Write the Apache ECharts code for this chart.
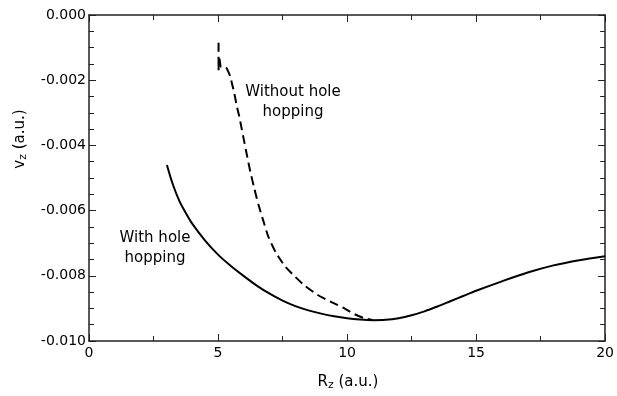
<!DOCTYPE html>
<html>
<head>
<meta charset="utf-8">
<script src="https://cdn.jsdelivr.net/npm/echarts@6/dist/echarts.min.js"></script>
<style>
  html, body { margin: 0; padding: 0; background: #fff; }
  #chart { width: 617px; height: 396px; }
</style>
</head>
<body>
<div id="chart"></div>
<script>
// With hole hopping (solid)
const withX = [3.02, 3.25, 3.5, 3.75, 4.0, 4.5, 5.0, 5.5, 6.0, 6.5, 7.0, 7.5, 8.0, 8.5, 9.0, 9.5,
  10.0, 10.5, 11.0, 11.5, 12.0, 12.5, 13.0, 13.5, 14.0, 14.5, 15.0, 16.0, 17.0, 18.0, 19.0, 20.0];
const withY = [-0.0046, -0.0052, -0.0057, -0.00607, -0.0064, -0.00692, -0.00735, -0.0077,
  -0.00801, -0.0083, -0.00855, -0.00876, -0.00893, -0.00906, -0.00916, -0.00924, -0.0093,
  -0.00934, -0.00936, -0.00935, -0.0093, -0.00921, -0.00909, -0.00894, -0.00878, -0.00862,
  -0.00846, -0.00817, -0.0079, -0.00768, -0.00752, -0.0074];

// Without hole hopping (dashed)
const withoutX = [5.02, 5.02, 5.05, 5.12, 5.3, 5.41, 5.48, 5.54, 5.63, 5.73, 5.82, 5.92, 6.02,
  6.12, 6.25, 6.4, 6.56, 6.75, 6.95, 7.25, 7.59, 7.95, 8.36, 8.85, 9.38, 9.9, 10.3, 10.66, 11.0];
const withoutY = [-0.00085, -0.0017, -0.0013, -0.0016, -0.0016, -0.00176, -0.0019, -0.0021,
  -0.0024, -0.0028, -0.0031, -0.0035, -0.0039, -0.0043, -0.0048, -0.0053, -0.0058, -0.0063,
  -0.0068, -0.0073, -0.0077, -0.0080, -0.0083, -0.00858, -0.0088, -0.0090, -0.00918, -0.0093,
  -0.00936];

const xRange = [0, 20];
const yRange = [-0.010, 0.000];

const zip = (xs, ys) => xs.map((x, i) => [x, ys[i]]);

const chart = echarts.init(document.getElementById("chart"));

const axisLine = { show: true, onZero: false, lineStyle: { color: "#222", width: 1.5 } };
const tickStyle = { color: "#222", width: 1 };
const font = "DejaVu Sans";

const xBase = {
  type: "value",
  min: xRange[0],
  max: xRange[1],
  interval: 5,
  axisLine: axisLine,
  axisTick: { show: true, inside: true, length: 7, lineStyle: tickStyle },
  minorTick: { show: true, splitNumber: 2, length: 5, lineStyle: tickStyle },
  splitLine: { show: false },
};
const yBase = {
  type: "value",
  min: yRange[0],
  max: yRange[1],
  interval: 0.002,
  axisLine: axisLine,
  axisTick: { show: true, inside: true, length: 7, lineStyle: tickStyle },
  minorTick: { show: true, splitNumber: 4, length: 5, lineStyle: tickStyle },
  splitLine: { show: false },
};

const option = {
  animation: false,
  backgroundColor: "#fff",
  grid: { left: 89, right: 7, top: 15, bottom: 55 },
  xAxis: [
    Object.assign({}, xBase, {
      position: "bottom",
      axisLabel: { color: "#000", fontFamily: font, fontSize: 14, margin: 5 },
    }),
    Object.assign({}, xBase, { position: "top", axisLabel: { show: false } }),
  ],
  yAxis: [
    Object.assign({}, yBase, {
      position: "left",
      axisLabel: {
        color: "#000",
        fontFamily: font,
        fontSize: 14,
        margin: 3,
        formatter: (v) => v.toFixed(3),
      },
    }),
    Object.assign({}, yBase, { position: "right", axisLabel: { show: false } }),
  ],
  series: [
    {
      name: "With hole hopping",
      type: "line",
      data: zip(withX, withY),
      showSymbol: false,
      smooth: 0.3,
      lineStyle: { color: "#000", width: 2 },
    },
    {
      name: "Without hole hopping",
      type: "line",
      data: zip(withoutX, withoutY),
      showSymbol: false,
      smooth: 0.2,
      lineStyle: { color: "#000", width: 2, type: [9, 5] },
    },
  ],
  graphic: [
    {
      type: "text",
      x: 293,
      y: 102,
      style: {
        text: "Without hole\nhopping",
        fontFamily: font,
        fontSize: 15,
        lineHeight: 20,
        fill: "#000",
        textAlign: "center",
        textVerticalAlign: "middle",
      },
    },
    {
      type: "text",
      x: 155,
      y: 248,
      style: {
        text: "With hole\nhopping",
        fontFamily: font,
        fontSize: 15,
        lineHeight: 20,
        fill: "#000",
        textAlign: "center",
        textVerticalAlign: "middle",
      },
    },
    {
      type: "text",
      x: 348,
      y: 382,
      style: {
        text: "{m|R}{s|z}{m| (a.u.)}",
        textAlign: "center",
        textVerticalAlign: "middle",
        rich: {
          m: { fontFamily: font, fontSize: 15, fill: "#000", lineHeight: 20 },
          s: { fontFamily: font, fontSize: 11, fill: "#000", lineHeight: 20, padding: [7, 0, 0, 0] },
        },
      },
    },
    {
      type: "text",
      x: 20,
      y: 139,
      rotation: Math.PI / 2,
      style: {
        text: "{m|v}{s|z}{m| (a.u.)}",
        textAlign: "center",
        textVerticalAlign: "middle",
        rich: {
          m: { fontFamily: font, fontSize: 15, fill: "#000", lineHeight: 20 },
          s: { fontFamily: font, fontSize: 11, fill: "#000", lineHeight: 20, padding: [7, 0, 0, 0] },
        },
      },
    },
  ],
};

chart.setOption(option);
</script>
</body>
</html>
